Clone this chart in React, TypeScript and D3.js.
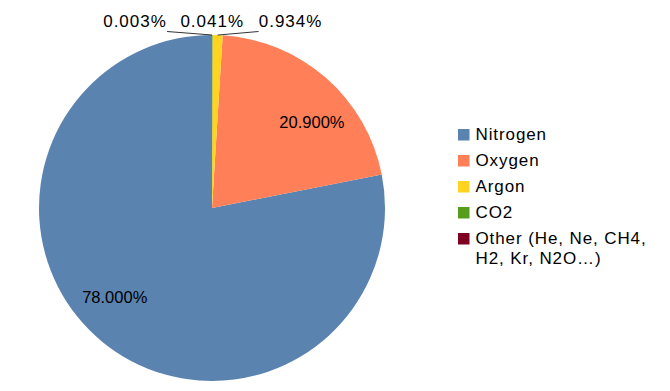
import React from 'react';
import * as d3 from 'd3';

// gas share of dry air
const gases = ['Nitrogen', 'Oxygen', 'Argon', 'CO2', 'Other (He, Ne, CH4, H2, Kr, N2O…)'];
const shares = [78.0, 20.9, 0.934, 0.041, 0.003];
const colors = ['#5a83b0', '#ff7f58', '#ffd320', '#579d1c', '#7e0021'];

const W = 670;
const H = 391;
const cx = 212;
const cy = 208;
const R = 173;
const font = '"Liberation Sans", Arial, sans-serif';

export default function App() {
  const rows = gases.map((name, i) => ({ name, value: shares[i], color: colors[i] }));

  // slices run counter-clockwise from 12 o'clock
  const pie = d3
    .pie<any>()
    .value((d) => d.value)
    .sort(null)
    .startAngle(0)
    .endAngle(-2 * Math.PI);
  const arcs = pie(rows);

  const arc = d3.arc<any>().innerRadius(0).outerRadius(R);
  const label_arc = d3.arc<any>().innerRadius(132).outerRadius(132);

  const fmt = (v: number) => `${v.toFixed(3)}%`;
  const pt = (a: number, r: number) => [cx + r * Math.sin(a), cy - r * Math.cos(a)];

  // small slices get labels above the pie
  const outside_dx = [0, 0, 73, 0, -77];

  const legend_x = 458;
  const legend_y = 129;
  const row_h = 26;

  return (
    <svg
      width={W}
      height={H}
      style={{ position: 'absolute', left: 0, top: 0, background: '#fff' }}
      fontFamily={font}
    >
      <g transform={`translate(${cx},${cy})`}>
        {arcs.map((a, i) => (
          <path key={i} d={arc(a) as string} fill={a.data.color} />
        ))}
      </g>

      {arcs.map((a, i) => {
        if (a.data.value < 5) return null;
        const shift = 0.14;
        const c = label_arc.centroid({ startAngle: a.startAngle + shift, endAngle: a.endAngle + shift });
        return (
          <text
            key={i}
            x={cx + c[0]}
            y={cy + c[1]}
            textAnchor="middle"
            dominantBaseline="central"
            fontSize={16.5}
            fill="#000"
          >
            {fmt(a.data.value)}
          </text>
        );
      })}

      {arcs.map((a, i) => {
        if (a.data.value >= 5) return null;
        const mid = (a.startAngle + a.endAngle) / 2;
        const [ex, ey] = pt(mid, R);
        const lx = ex + outside_dx[i];
        const ly = 26.5;
        const line_x = outside_dx[i] > 0 ? lx - 32 : outside_dx[i] < 0 ? lx + 32 : null;
        return (
          <g key={i}>
            {line_x !== null && (
              <line x1={line_x} y1={31.5} x2={ex} y2={ey} stroke="#333" strokeWidth={1} />
            )}
            <text x={lx} y={ly} textAnchor="middle" fontSize={17} letterSpacing={1} fill="#000">
              {fmt(a.data.value)}
            </text>
          </g>
        );
      })}

      <g transform={`translate(${legend_x},${legend_y})`}>
        {rows.map((d, i) => {
          const y = i * row_h;
          const words = d.name.length > 20 ? ['Other (He, Ne, CH4,', 'H2, Kr, N2O…)'] : [d.name];
          return (
            <g key={i} transform={`translate(0,${y})`}>
              <rect x={0} y={0} width={11.5} height={11.5} fill={d.color} />
              {words.map((w, j) => (
                <text
                  key={j}
                  x={17.5}
                  y={11 + j * 20}
                  fontSize={17}
                  letterSpacing={0.9}
                  fill="#000"
                >
                  {w}
                </text>
              ))}
            </g>
          );
        })}
      </g>
    </svg>
  );
}
